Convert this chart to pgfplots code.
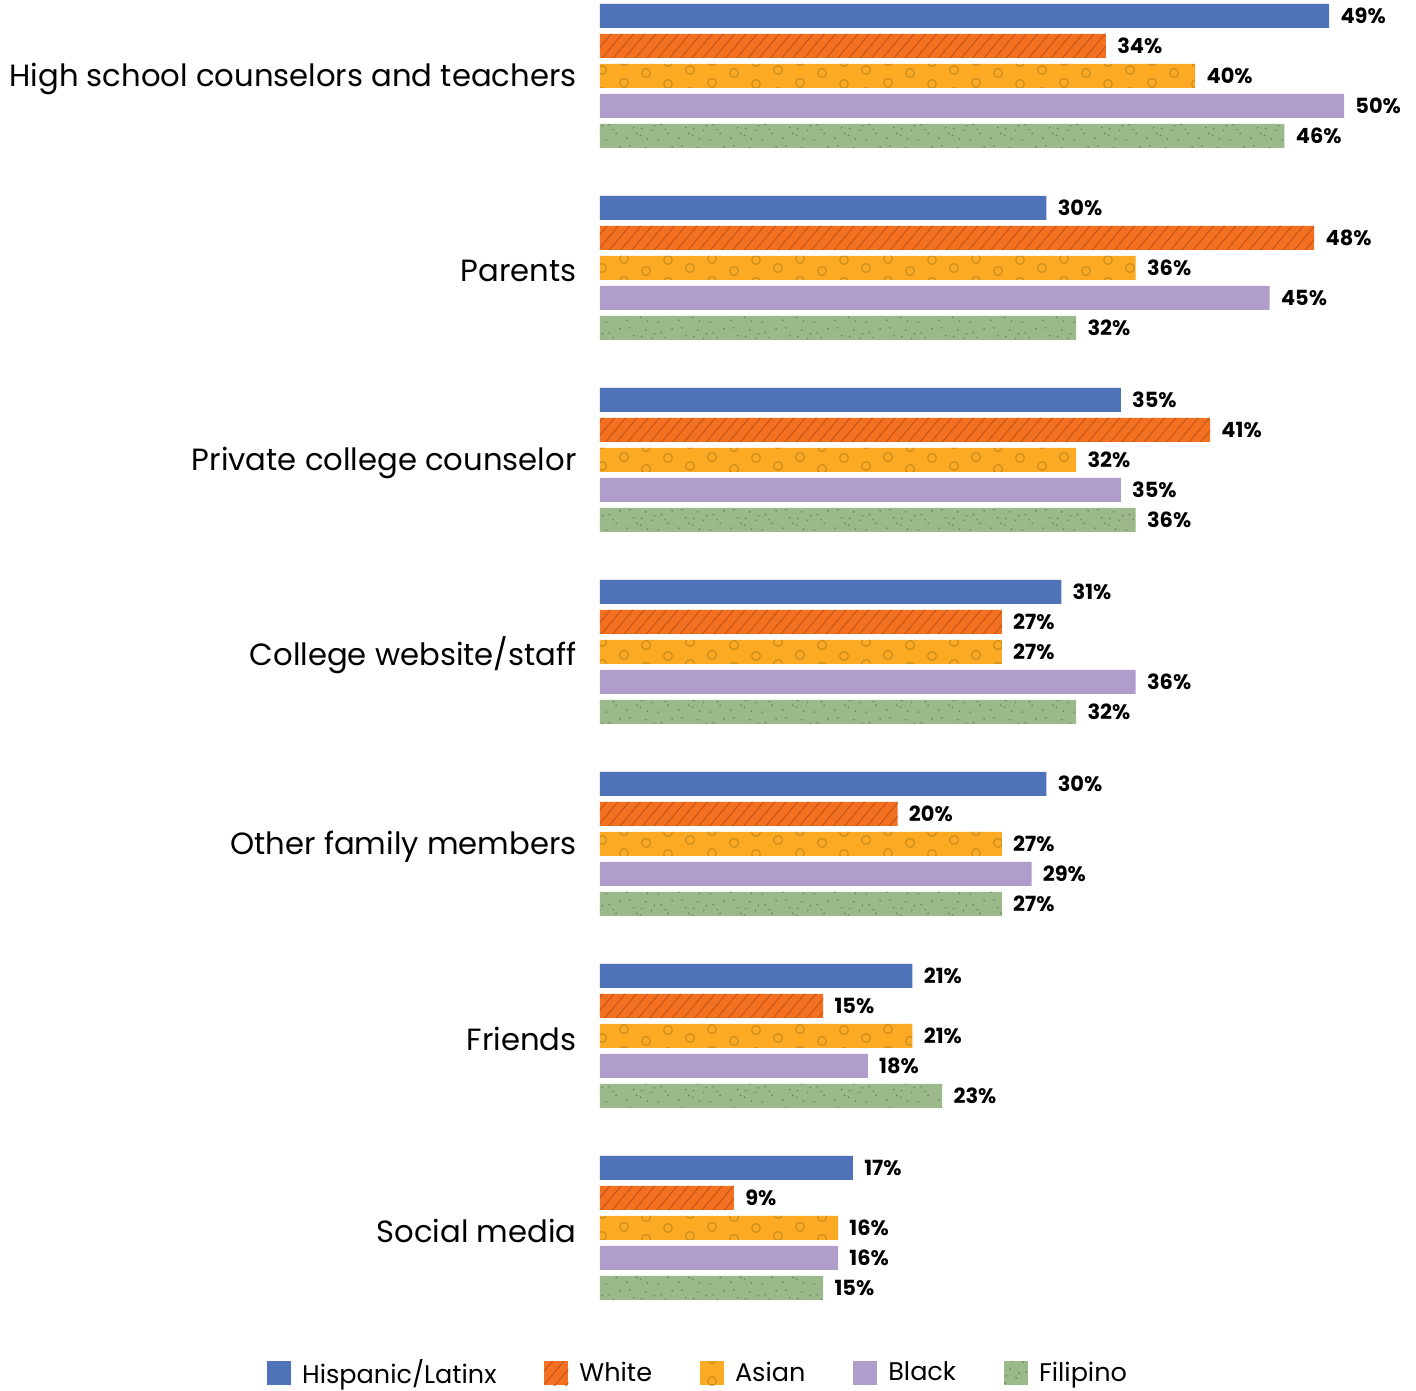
\documentclass[border=0pt]{standalone}
\usepackage{pgfplots}
\pgfplotsset{compat=1.18}
\usepackage{fontspec}
\setmainfont{Poppins}
\usetikzlibrary{patterns,patterns.meta}
\definecolor{cHisp}{HTML}{4E73B8}
\definecolor{cWhite}{HTML}{F37021}
\definecolor{cWhiteLn}{HTML}{C2561A}
\definecolor{cAsian}{HTML}{FCA923}
\definecolor{cAsianLn}{HTML}{C98E1C}
\definecolor{cBlack}{HTML}{AF9DCB}
\definecolor{cFil}{HTML}{9BB98B}
\definecolor{cFilDot}{HTML}{6A8660}
\tikzdeclarepattern{
  name=mycircles,
  type=uncolored,
  bounding box={(-3bp,-3bp) and (47bp,14bp)},
  tile size={(44bp,11bp)},
  code={
    \draw[line width=0.55bp] (4bp,5bp) circle (2.2bp);
    \draw[line width=0.55bp] (15bp,10bp) circle (2.2bp);
    \draw[line width=0.55bp] (26bp,4.5bp) circle (2.2bp);
    \draw[line width=0.55bp] (37bp,0.5bp) circle (2.2bp);
  }
}
\tikzdeclarepattern{
  name=mydots,
  type=uncolored,
  bounding box={(0,0) and (26bp,13bp)},
  tile size={(26bp,13bp)},
  code={
    \fill (1.5bp,2.5bp) circle (0.5bp);
    \fill (5bp,8bp) circle (0.5bp);
    \fill (6.5bp,5bp) circle (0.5bp);
    \fill (8.5bp,4bp) circle (0.5bp);
    \fill (11bp,11bp) circle (0.5bp);
    \fill (12bp,2bp) circle (0.5bp);
    \fill (14bp,6.5bp) circle (0.5bp);
    \fill (15.5bp,9bp) circle (0.5bp);
    \fill (17.5bp,1.5bp) circle (0.5bp);
    \fill (19bp,9.5bp) circle (0.5bp);
    \fill (21bp,7bp) circle (0.5bp);
    \fill (22.5bp,5bp) circle (0.5bp);
    \fill (24.5bp,11.5bp) circle (0.5bp);
    \fill (3bp,12bp) circle (0.5bp);
    \fill (9bp,7.5bp) circle (0.5bp);
  }
}
\begin{document}
\begin{tikzpicture}
\begin{axis}[
  at={(0,0)}, anchor=north west,
  x=7.44bp, y=0.5bp,
  xmin=0, xmax=54.8, ymin=-1391, ymax=0,
  enlargelimits=false,
  clip=false,
  xbar, bar width=24, bar shift=0pt,
  axis line style={draw=none},
  xtick=\empty,
  ytick={-76,-268,-460,-652,-844,-1036,-1228},
  yticklabels={High school counselors and teachers,Parents,Private college counselor,College website/staff,Other family members,Friends,Social media},
  major tick length=0pt,
  yticklabel style={font=\fontsize{15.4}{18}\selectfont, inner sep=0pt, xshift=-11.5bp, yshift=-1.5bp},
  point meta=x,
  /pgf/number format/assume math mode=true,
  nodes near coords={\pgfmathprintnumber{\pgfplotspointmeta}\%},
  every node near coord/.append style={font=\fontsize{10.5}{12}\selectfont\bfseries, text=black, anchor=west, inner sep=0pt, xshift=5.5bp},
  legend columns=5,
  legend style={at={(0.1215,0.0129)}, anchor=center, draw=none, fill=none,
    font=\fontsize{12.8}{15}\selectfont, inner sep=0pt,
    /tikz/every odd column/.append style={column sep=3.5bp},
    /tikz/every even column/.append style={column sep=22bp}},
  legend image code/.code={\path[#1, draw=none] (0bp,-6bp) rectangle (12bp,6bp);},
]
\addplot[fill=cHisp, draw=none] coordinates {(49,-16) (30,-208) (35,-400) (31,-592) (30,-784) (21,-976) (17,-1168)};
\addlegendentry{Hispanic/Latinx}
\addplot[fill=cWhite, draw=none, postaction={pattern={Lines[angle=50,distance=4.3bp,line width=0.5bp]}, pattern color=cWhiteLn}] coordinates {(34,-46) (48,-238) (41,-430) (27,-622) (20,-814) (15,-1006) (9,-1198)};
\addlegendentry{White}
\addplot[fill=cAsian, draw=none, postaction={pattern=mycircles, pattern color=cAsianLn}] coordinates {(40,-76) (36,-268) (32,-460) (27,-652) (27,-844) (21,-1036) (16,-1228)};
\addlegendentry{Asian}
\addplot[fill=cBlack, draw=none] coordinates {(50,-106) (45,-298) (35,-490) (36,-682) (29,-874) (18,-1066) (16,-1258)};
\addlegendentry{Black}
\addplot[fill=cFil, draw=none, postaction={pattern=mydots, pattern color=cFilDot}] coordinates {(46,-136) (32,-328) (36,-520) (32,-712) (27,-904) (23,-1096) (15,-1288)};
\addlegendentry{Filipino}
\end{axis}
\pgfresetboundingbox
\path (-300bp,0) rectangle (408bp,-695.5bp);
\end{tikzpicture}
\end{document}
